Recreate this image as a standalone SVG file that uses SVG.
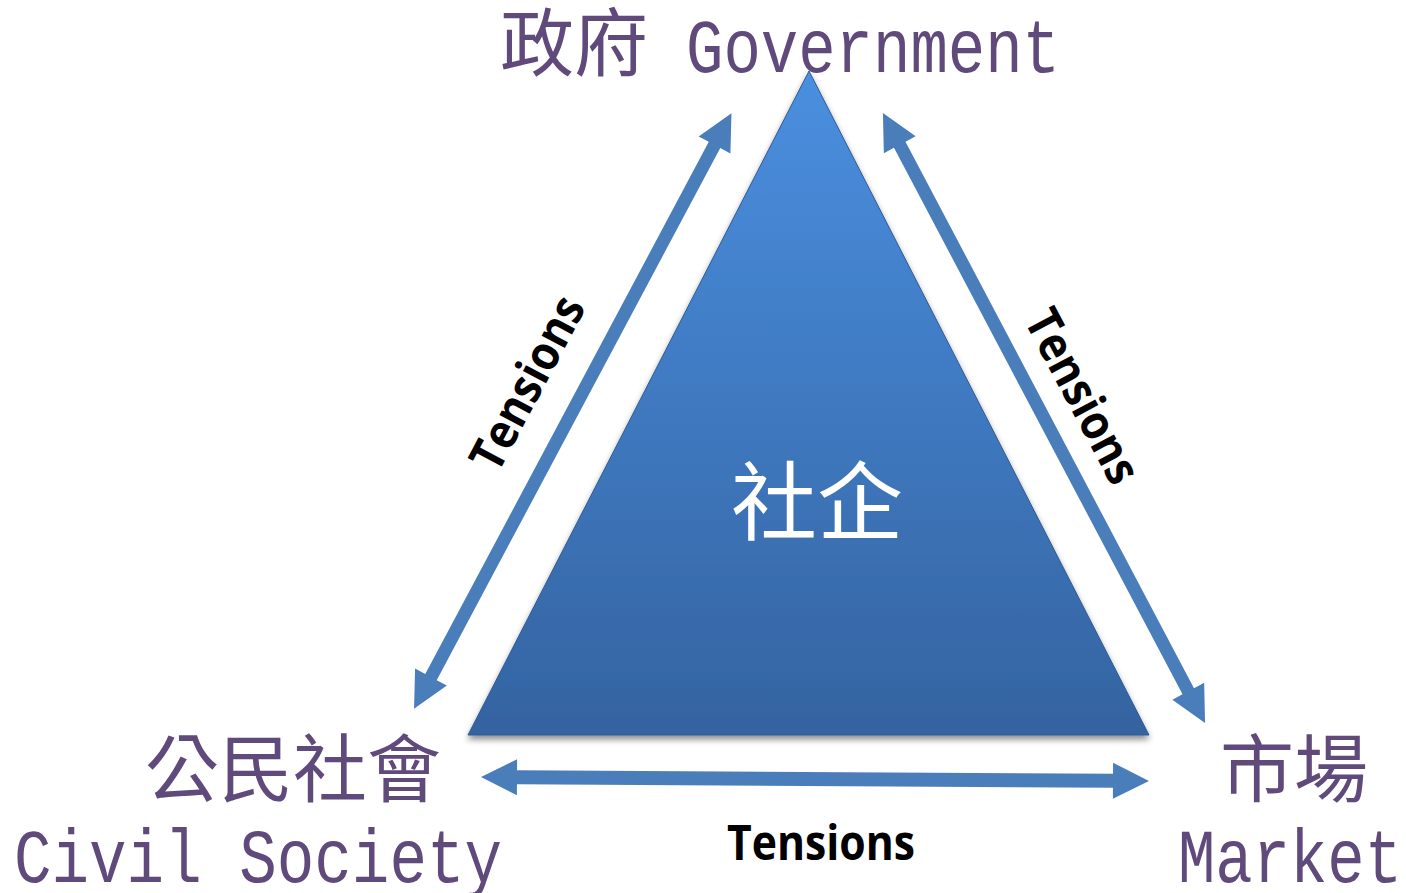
<svg xmlns="http://www.w3.org/2000/svg" width="1406" height="893" viewBox="0 0 1406 893">
<style>
.cjk{font-family:"Noto Sans CJK TC","Noto Sans CJK SC",sans-serif;font-size:74px;fill:#604a7b}
.lat{font-family:"Liberation Mono","DejaVu Sans Mono",monospace;font-size:76px;fill:#604a7b}
.ten{font-family:"Open Sans","Liberation Sans",sans-serif;font-weight:bold;font-size:48px;fill:#000}
.arr{fill:#4a7ebb}
.core{font-family:"Noto Sans CJK TC","Noto Sans CJK SC",sans-serif;font-size:86px;fill:#fff}
</style>
<defs>
<linearGradient id="tg" x1="0" y1="0" x2="0" y2="1">
<stop offset="0" stop-color="#4a8fe0"/>
<stop offset="1" stop-color="#3463a0"/>
</linearGradient>
<filter id="sh" x="-10%" y="-10%" width="120%" height="130%">
<feDropShadow dx="0" dy="4" stdDeviation="3" flood-color="#000" flood-opacity="0.45"/>
</filter>
</defs>
<rect width="1406" height="893" fill="#fff"/>
<g id="core">
<polygon points="809,71 1149,735 468,735" fill="url(#tg)" stroke="#2f5b92" stroke-width="1" filter="url(#sh)"/>
<text class="core" x="817" y="534" text-anchor="middle">社企</text>
</g>
<g id="government">
<text class="cjk" x="500" y="70">政府</text>
<text class="lat" x="686" y="72" textLength="374" lengthAdjust="spacingAndGlyphs">Government</text>
</g>
<g id="civil-society">
<text class="cjk" x="145" y="796">公民社會</text>
<text class="lat" x="14" y="882" textLength="488" lengthAdjust="spacingAndGlyphs">Civil Society</text>
</g>
<g id="market">
<text class="cjk" x="1220" y="796">市場</text>
<text class="lat" x="1178" y="882" textLength="224" lengthAdjust="spacingAndGlyphs">Market</text>
</g>
<g id="connectors">
<polygon class="arr" transform="translate(572.75,411) rotate(-61.95)" points="-337.5,0 -301.5,-18 -301.5,-6.5 301.5,-6.5 301.5,-18 337.5,0 301.5,18 301.5,6.5 -301.5,6.5 -301.5,18"/>
<polygon class="arr" transform="translate(1044,418) rotate(62.17)" points="-345,0 -309,-18 -309,-6.5 309,-6.5 309,-18 345,0 309,18 309,6.5 -309,6.5 -309,18"/>
<polygon class="arr" transform="translate(815,779) rotate(0.34)" points="-334,0 -298,-18 -298,-7 298,-7 298,-18 334,0 298,18 298,7 -298,7 -298,18"/>
<text class="ten" transform="translate(527,383) rotate(-62)" x="0" y="17" text-anchor="middle" textLength="190" lengthAdjust="spacingAndGlyphs">Tensions</text>
<text class="ten" transform="translate(1083,396) rotate(62)" x="0" y="17" text-anchor="middle" textLength="190" lengthAdjust="spacingAndGlyphs">Tensions</text>
<text class="ten" x="821" y="860" text-anchor="middle" textLength="188" lengthAdjust="spacingAndGlyphs">Tensions</text>
</g>
</svg>
